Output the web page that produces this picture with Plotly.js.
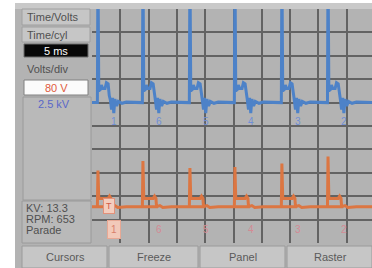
<!DOCTYPE html>
<html><head><meta charset="utf-8">
<script src="https://cdn.plot.ly/plotly-3.0.1.min.js"></script>
<style>html,body{margin:0;padding:0;background:#fff;}#chart{width:372px;height:268px;}</style>
</head><body><div id="chart"></div>
<script>
// ---- data (grid divisions) ----
const firingOrder   = ['1','6','5','4','3','2'];
const firingTimes   = [0.21, 1.80, 3.46, 5.05, 6.71, 8.34];
const orangeSpikes  = [3.1, 3.5, 3.2, 3.25, 3.4, 3.7];
const blueBaseline  = 6.0;
const orangeBaseline = 1.55;
const blueSpikeTop  = 12;   // goes off the top of the screen
// secondary-ignition shape after each firing (offset, level)
const blueShapeDx = [-0.02, 0, 0.03, 0.08, 0.12, 0.17, 0.25, 0.30, 0.36, 0.40, 0.44, 0.48, 0.52, 0.56, 0.60, 0.66, 0.72, 0.85, 1.0];
const blueShapeY  = [6.0, 12, 6.5, 6.55, 6.75, 6.6, 6.6, 6.85, 6.8, 6.3, 6.1, 5.7, 6.2, 5.55, 6.15, 5.85, 6.05, 5.97, 6.02];
const orangeShapeDx = [-0.02, 0, 0.03, 0.36, 0.41, 0.46, 0.48, 0.03, 0.48, 0.6, 0.7, 1.0];
const orangeShapeY  = [1.55, 'spike', 1.9, 1.9, 2.0, 1.9, 1.55, 1.55, 1.55, 1.6, 1.52, 1.55];
const screenEnd = 9.894;

// ---- build traces ----
function build(shapeDx, shapeY, base, spikes) {
  const x = [0], y = [base];
  firingTimes.forEach((t, i) => {
    shapeDx.forEach((d, j) => {
      x.push(t + d);
      const v = shapeY[j];
      y.push(v === 'spike' ? spikes[i] : (spikes === null && j === 1 ? blueSpikeTop : v));
    });
  });
  x.push(screenEnd); y.push(base);
  return {x, y};
}
const blue = build(blueShapeDx, blueShapeY, blueBaseline, null);
const orange = build(orangeShapeDx, orangeShapeY, orangeBaseline, orangeSpikes);

const traces = [
  {x: blue.x, y: blue.y, mode: 'lines', line: {color: '#4d82c8', width: 3}, hoverinfo: 'skip'},
  {x: orange.x, y: orange.y, mode: 'lines', line: {color: '#dc7642', width: 3}, hoverinfo: 'skip'}
];

// ---- layout helpers (pixel -> paper) ----
const W = 372, H = 268;
const px = v => v / W, py = v => 1 - v / H;
function rect(x0, y0, x1, y1, fill, line, lw) {
  return {type: 'rect', xref: 'paper', yref: 'paper', x0: px(x0), x1: px(x1), y0: py(y1), y1: py(y0),
          fillcolor: fill, line: {color: line || fill, width: lw === undefined ? 1 : lw}, layer: 'below'};
}
function txt(x, y, text, color, size, anchor) {
  return {xref: 'paper', yref: 'paper', x: px(x), y: py(y), text: text, showarrow: false,
          xanchor: anchor || 'left', yanchor: 'middle',
          font: {family: 'Liberation Sans, Arial, sans-serif', size: size || 11, color: color || '#505050'}};
}

const shapes = [
  rect(15, 3, 372, 268, '#b3b3b3', '#b3b3b3', 0),
  rect(15, 3, 372, 9, '#c9c9c9', '#c9c9c9', 0),
  rect(22, 9, 90, 25, '#c6c6c6', '#a0a0a0'),
  rect(22, 27, 90, 42, '#c6c6c6', '#a0a0a0'),
  rect(24, 44, 88, 57, '#080808', '#6a6a6a'),
  rect(24, 80, 88, 95, '#fbfbfb', '#808080'),
  rect(23, 97, 91, 200, '#b9b9b9', '#9a9a9a'),
  rect(22, 201, 91, 243, '#b9b9b9', '#9a9a9a'),
  rect(22, 246, 107, 268, '#c6c6c6', '#9a9a9a'),
  rect(109, 246, 198, 268, '#c6c6c6', '#9a9a9a'),
  rect(200, 246, 285, 268, '#c6c6c6', '#9a9a9a'),
  rect(287, 246, 372, 268, '#c6c6c6', '#9a9a9a')
];

const annotations = [
  txt(25, 17, 'Time/Volts'),
  txt(25, 35, 'Time/cyl'),
  txt(56, 51, '5 ms', '#ffffff', 11, 'center'),
  txt(25, 69, 'Volts/div'),
  txt(56, 88, '80 V', '#e05a3c', 11, 'center'),
  txt(54, 104, '2.5 kV', '#5a68c8', 11, 'center'),
  txt(24, 208, 'KV: 13.3'),
  txt(24, 219, 'RPM: 653'),
  txt(24, 230, 'Parade'),
  txt(65, 257, 'Cursors', '#5a5a5a', 11, 'center'),
  txt(154, 257, 'Freeze', '#5a5a5a', 11, 'center'),
  txt(243, 257, 'Panel', '#5a5a5a', 11, 'center'),
  txt(330, 257, 'Raster', '#5a5a5a', 11, 'center')
];
// cylinder labels on the screen
firingOrder.forEach((c, i) => {
  annotations.push({x: firingTimes[i] + 0.56, y: 5.2, xref: 'x', yref: 'y', text: c, showarrow: false,
    font: {family: 'Liberation Sans, Arial, sans-serif', size: 10, color: '#6f8fd6'}});
  const first = i === 0;
  annotations.push({x: firingTimes[i] + 0.56, y: 0.56, xref: 'x', yref: 'y', text: c, showarrow: false,
    bgcolor: first ? '#f2c9b9' : 'rgba(0,0,0,0)', borderpad: first ? 3 : 1,
    bordercolor: first ? '#e7a894' : 'rgba(0,0,0,0)', borderwidth: first ? 1 : 0,
    font: {family: 'Liberation Sans, Arial, sans-serif', size: 10, color: first ? '#d8806c' : '#d48a94'}});
});
annotations.push({x: firingTimes[0] + 0.38, y: 1.6, xref: 'x', yref: 'y', text: 'T', showarrow: false,
  bgcolor: '#f4cdbd', bordercolor: '#e2917a', borderwidth: 1, borderpad: 2,
  font: {family: 'Liberation Sans, Arial, sans-serif', size: 9, color: '#d25a44'}});

const layout = {
  width: W, height: H, margin: {l: 0, r: 0, t: 0, b: 0},
  paper_bgcolor: '#ffffff', plot_bgcolor: '#000000', showlegend: false,
  xaxis: {domain: [px(92), 1], range: [0, screenEnd], dtick: 1, tick0: 0, showgrid: true,
          gridcolor: '#636363', gridwidth: 2, zeroline: false, showticklabels: false, ticks: '', fixedrange: true},
  yaxis: {domain: [py(243), py(9)], range: [0, 10], dtick: 1, tick0: 0, showgrid: true,
          gridcolor: '#636363', gridwidth: 2, zeroline: false, showticklabels: false, ticks: '', fixedrange: true},
  shapes: shapes, annotations: annotations
};
Plotly.newPlot('chart', traces, layout, {displayModeBar: false, staticPlot: true});
</script></body></html>
